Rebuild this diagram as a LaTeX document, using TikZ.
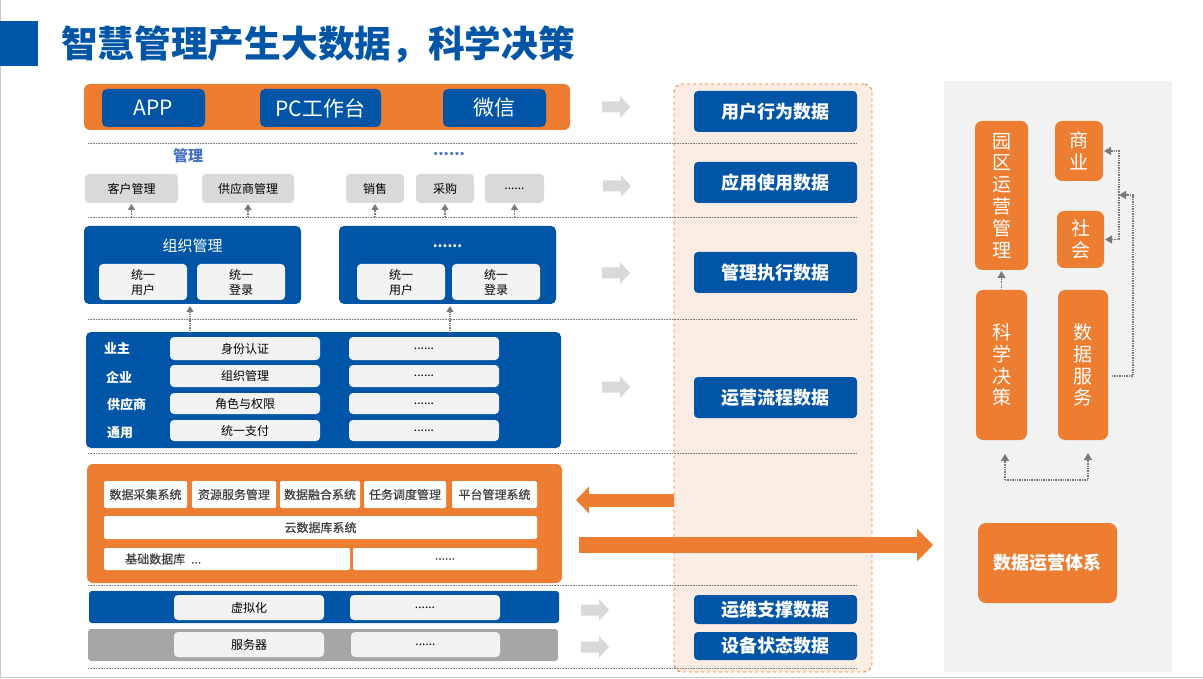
\documentclass[tikz,border=0pt]{standalone}
\usepackage{fontspec}
\setmainfont{Noto Sans CJK SC}
\newfontfamily\cjkm[FakeBold=0.6]{Noto Sans CJK SC}
\usetikzlibrary{arrows.meta}
\definecolor{cblue}{HTML}{0055A6}
\definecolor{corange}{HTML}{ED7D31}
\definecolor{cgray}{HTML}{D9D9D9}
\definecolor{clight}{HTML}{F2F2F2}
\definecolor{cbar}{HTML}{A6A6A6}
\definecolor{cpeach}{HTML}{FBEDE3}
\definecolor{cline}{HTML}{7A7A7A}
\definecolor{ctxt}{HTML}{404040}
\definecolor{cmid}{HTML}{4472C4}
\definecolor{cedge}{HTML}{C8C8C8}
\newcommand{\fs}[2]{\fontsize{#1}{#2}\selectfont}
\newcommand{\bx}[7]{\node[#2,minimum width={(#5)-(#3)},minimum height={(#6)-(#4)}] (#1) at ({((#3)+(#5))/2},{((#4)+(#6))/2}) {#7};}
\newcommand{\garrow}[2]{\fill[cgray] (#1,#2-5.5) -- ++(18,0) -- ++(0,-5.5) -- ++(10,11) -- ++(-10,11) -- ++(0,-5.5) -- ++(-18,0) -- cycle;}
\tikzset{
 box/.style={inner sep=0pt, outer sep=0pt, draw=none},
 bbox/.style={box, fill=cblue, rounded corners=5pt, text=white},
 obox/.style={box, fill=corange, rounded corners=6pt, text=white},
 gbox/.style={box, fill=cgray, rounded corners=4pt, text=black, font=\fs{12}{14}},
 lbox/.style={box, fill=clight, rounded corners=4pt, text=black, font=\fs{12}{14}},
 wbox/.style={box, fill=white, rounded corners=2pt, text=ctxt, font=\cjkm\fs{12}{14}},
 labbox/.style={box, fill=cblue, rounded corners=4pt, text=white, font=\bfseries\fs{18}{20}},
 vbox/.style={box, fill=corange, rounded corners=7pt, text=white, align=center, font=\fs{19}{21.8}},
 sep/.style={draw=cline, densely dotted, line width=0.6pt},
 uparr/.style={draw=cline, densely dotted, line width=1.3pt, -{Triangle[width=7pt,length=6pt]}},
 darr/.style={draw=cline, densely dotted, line width=1.4pt, -{Triangle[width=8pt,length=7pt]}},
 oarrl/.style={draw=corange, line width=13pt, -{Triangle[width=26pt,length=13pt]}},
 oarrr/.style={draw=corange, line width=16pt, -{Triangle[width=32pt,length=16pt]}},
 side/.style={text=white, font=\bfseries\fs{13}{15}, inner sep=0pt, anchor=west},
}
\begin{document}
\begin{tikzpicture}[x=1pt,y=-1pt]
\useasboundingbox (0,0) rectangle (1203,679);
% slide edges
\draw[cedge, line width=1pt] (0.5,0) -- (0.5,677.5) -- (1203,677.5);
% title
\bx{sq}{box,fill=cblue}{0}{21}{38}{66}{}
\node[anchor=west, text=cblue, font=\bfseries\fs{36.7}{40}, inner sep=0pt] (title) at (61,44) {智慧管理产生大数据，科学决策};
% panels
\bx{gp}{box,fill=clight}{944}{81}{1172}{672}{}
\bx{pnl}{fill=cpeach, draw=corange, dashed, rounded corners=8pt, line width=0.9pt, inner sep=0pt, outer sep=0pt}{674}{84}{872}{672}{}
% separators
\foreach \yy in {143,217,319,453,585,668} {\draw[sep] (88,\yy) -- (857,\yy);}
% top layer
\bx{top}{obox}{84}{84}{570}{130}{}
\bx{app}{bbox,font=\fs{21}{24}}{102}{89}{205}{127}{APP}
\bx{pc}{bbox,font=\fs{21}{24}}{260}{89}{381}{127}{PC工作台}
\bx{wx}{bbox,font=\fs{21}{24}}{443}{89}{546}{127}{微信}
% application layer
\node[text=cmid, font=\bfseries\fs{15}{18}, inner sep=0pt] (glt) at (188,156) {管理};
\node[text=cmid, font=\bfseries\fs{15}{18}, inner sep=0pt] (gdt) at (449,154) {......};
\bx{kh}{gbox}{85}{174}{178}{203}{客户管理}
\bx{gys}{gbox}{202}{174}{294}{203}{供应商管理}
\bx{xs}{gbox}{346}{174}{404}{203}{销售}
\bx{cg}{gbox}{416}{174}{474}{203}{采购}
\bx{gd}{gbox}{485}{174}{544}{203}{......}
\foreach \n in {kh,gys,xs,cg,gd} {\coordinate (\n-a) at ([yshift=-14pt]\n.south); \draw[uparr,shorten >=1pt] (\n-a) -- (\n.south);}
% management layer
\bx{zz}{bbox}{84}{226}{301}{304}{}
\node[text=white, font=\fs{15}{18}, inner sep=0pt] (zzt) at (192.5,246) {组织管理};
\bx{zz1}{lbox,align=center,font=\fs{12}{15}}{99}{264}{187}{300}{统一\\用户}
\bx{zz2}{lbox,align=center,font=\fs{12}{15}}{197}{264}{285}{300}{统一\\登录}
\bx{dd}{bbox}{339}{226}{556}{304}{}
\node[text=white, font=\bfseries\fs{14}{18}, inner sep=0pt] (ddt) at (447.5,246) {......};
\bx{dd1}{lbox,align=center,font=\fs{12}{15}}{357}{264}{445}{300}{统一\\用户}
\bx{dd2}{lbox,align=center,font=\fs{12}{15}}{452}{264}{540}{300}{统一\\登录}
\coordinate (a1) at (190,331);
\coordinate (a2) at (450,331);
\draw[uparr,shorten >=2pt] (a1) -- (a1 |- zz.south);
\draw[uparr,shorten >=2pt] (a2) -- (a2 |- dd.south);
% operation layer
\bx{yy}{bbox}{86}{332}{561}{448}{}
\node[side] (s1) at (104,348.5) {业主};
\node[side] (s2) at (106,377) {企业};
\node[side] (s3) at (107,404.5) {供应商};
\node[side] (s4) at (107,433) {通用};
\bx{r1a}{lbox}{170}{337}{320}{360}{身份认证}
\bx{r2a}{lbox}{170}{365}{320}{387}{组织管理}
\bx{r3a}{lbox}{170}{393}{320}{414}{角色与权限}
\bx{r4a}{lbox}{170}{420}{320}{441}{统一支付}
\bx{r1b}{lbox}{349}{337}{499}{360}{......}
\bx{r2b}{lbox}{349}{365}{499}{387}{......}
\bx{r3b}{lbox}{349}{393}{499}{414}{......}
\bx{r4b}{lbox}{349}{420}{499}{441}{......}
% data platform
\bx{jc}{obox}{87}{464}{562}{583}{}
\bx{w1}{wbox}{104}{481}{187}{508}{数据采集系统}
\bx{w2}{wbox}{192}{481}{276}{508}{资源服务管理}
\bx{w3}{wbox}{280}{481}{360}{508}{数据融合系统}
\bx{w4}{wbox}{364}{481}{446}{508}{任务调度管理}
\bx{w5}{wbox}{452}{481}{537}{508}{平台管理系统}
\bx{w6}{wbox}{104}{516}{537}{539}{云数据库系统}
\bx{w7}{wbox}{104}{548}{350}{570}{}
\node[anchor=west, text=ctxt, font=\cjkm\fs{12}{14}, inner sep=0pt] (w7t) at (125,559) {基础数据库\enspace...};
\bx{w8}{wbox}{353}{548}{537}{570}{......}
% infrastructure
\bx{xn}{bbox,rounded corners=3pt}{89}{591}{559}{623}{}
\bx{xn1}{lbox}{174}{595}{324}{620}{虚拟化}
\bx{xn2}{lbox}{350}{595}{500}{620}{......}
\bx{fw}{box,fill=cbar,rounded corners=3pt}{88}{629}{558}{661}{}
\bx{fw1}{lbox}{174}{632}{324}{657}{服务器}
\bx{fw2}{lbox}{351}{632}{500}{657}{......}
% gray arrows
\garrow{602}{107}
\garrow{603}{186}
\garrow{602}{273}
\garrow{602}{387}
\garrow{581}{610}
\garrow{581}{647}
% data labels
\bx{d1}{labbox}{694}{91}{857}{132}{用户行为数据}
\bx{d2}{labbox}{694}{162}{857}{203}{应用使用数据}
\bx{d3}{labbox}{694}{252}{857}{293}{管理执行数据}
\bx{d4}{labbox}{694}{377}{857}{418}{运营流程数据}
\bx{d5}{labbox}{694}{595}{857}{624}{运维支撑数据}
\bx{d6}{labbox}{694}{632}{857}{660}{设备状态数据}
% orange arrows
\coordinate (la) at (674,500);
\draw[oarrl, shorten >=14pt] (la) -- (la -| jc.east);
\coordinate (ra) at (579,545);
\draw[oarrr, shorten >=11pt] (ra) -- (ra -| gp.west);
% right side
\bx{yq}{vbox}{975}{121}{1028}{270}{园\\区\\运\\营\\管\\理}
\bx{sy}{vbox}{1055}{121}{1103}{181}{商\\业}
\bx{sh}{vbox}{1057}{211}{1104}{268}{社\\会}
\bx{kx}{vbox}{976}{290}{1027}{440}{科\\学\\决\\策}
\bx{sf}{vbox}{1058}{290}{1108}{440}{数\\据\\服\\务}
\bx{yt}{obox,rounded corners=8pt,font=\bfseries\fs{18}{20}}{978}{523}{1117}{603}{数据运营体系}
\draw[darr, shorten >=1pt] (kx.north) -- (yq.south);
\coordinate (br) at (1119,195);
\draw[darr] ([xshift=4pt,yshift=-11pt]sf.east) -| ([xshift=14pt]br) -- (br);
\draw[darr, shorten >=1pt] (br) |- (sy.east);
\draw[darr, shorten >=1pt] (br) |- (sh.east);
\coordinate (u1) at (1005,480);
\coordinate (u2) at (1088,480);
\draw[darr, shorten >=13pt] (u1) -- (u2) -- (u2 |- sf.south);
\draw[darr, shorten >=14pt] (u1) -- (u1 |- kx.south);
\end{tikzpicture}
\end{document}
